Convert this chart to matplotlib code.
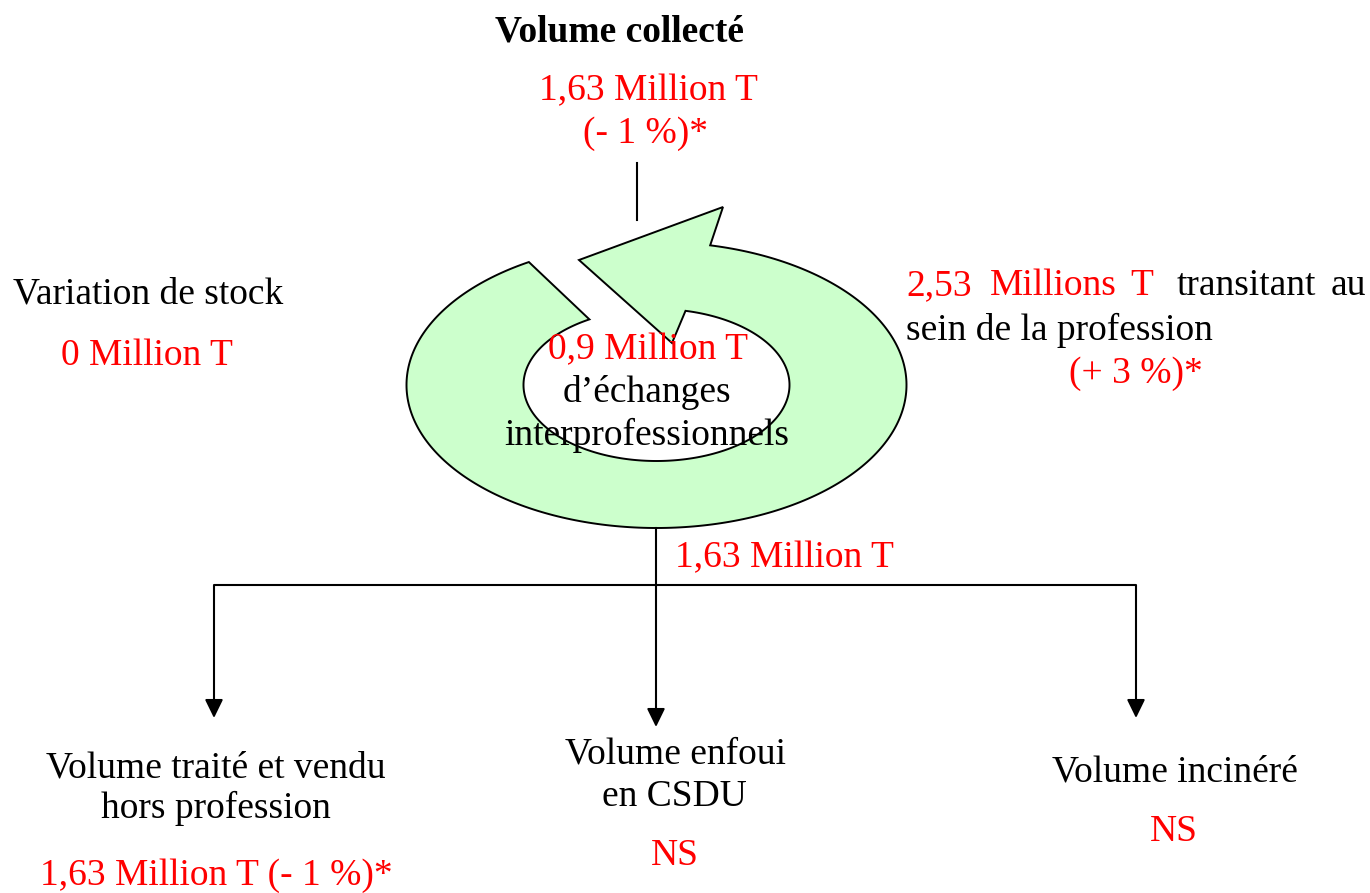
import numpy as np
import matplotlib
matplotlib.use("Agg")
import matplotlib.pyplot as plt
from matplotlib.patches import Polygon

# ---- Text content ----
title_top = "Volume collecté"
collect_value = ["1,63 Million T", "(- 1 %)*"]
stock_label = "Variation de stock"
stock_value = "0 Million T"
transit_words_red = ["2,53", "Millions", "T"]
transit_words_black = ["transitant", "au"]
transit_line2 = "sein de la profession"
transit_change = "(+ 3 %)*"
inner_value = "0,9 Million T"
inner_label = ["d\u2019échanges", "interprofessionnels"]
flow_value = "1,63 Million T"
out_labels = [["Volume traité et vendu", "hors profession"],
              ["Volume enfoui", "en CSDU"],
              ["Volume incinéré"]]
out_values = ["1,63 Million T (- 1 %)*", "NS", "NS"]

RED = "#FF0000"
GREEN = "#CCFFCC"
FONT = "Liberation Serif"
FS = 27

fig = plt.figure(figsize=(13.7, 8.93), dpi=100)
ax = fig.add_axes([0, 0, 1, 1])
ax.set_xlim(0, 1370)
ax.set_ylim(893, 0)
ax.axis("off")

# ---- Circular arrow ----
cx, cy = 656.5, 385.0
ao, bo = 250.0, 143.0
ai, bi = 133.0, 76.0
t_out = np.radians(np.linspace(239.3, -77.6, 300))
t_in = np.radians(np.linspace(-77.4, 239.7, 300))
outer = np.column_stack([cx + ao * np.cos(t_out), cy + bo * np.sin(t_out)])
inner = np.column_stack([cx + ai * np.cos(t_in), cy + bi * np.sin(t_in)])
head = np.array([[723, 207], [579, 260], [672, 343]])
pts = np.vstack([outer, head, inner])
ax.add_patch(Polygon(pts, closed=True, facecolor=GREEN, edgecolor="black", lw=1.4, joinstyle="miter"))

# ---- Lines ----
LW = 1.5
ax.plot([637, 637], [163, 220], color="black", lw=LW)
ax.plot([214, 1136], [585, 585], color="black", lw=LW, solid_capstyle="butt")
ax.plot([656, 656], [528, 585], color="black", lw=LW)
for x, y0, y1 in [(214, 585, 718), (656, 585, 727), (1136, 585, 718)]:
    ax.annotate("", xy=(x, y1), xytext=(x, y0),
                arrowprops=dict(arrowstyle="-|>,head_length=0.45,head_width=0.22",
                                mutation_scale=25, color="black", lw=LW,
                                shrinkA=0, shrinkB=0))

def txt(x, y, s, color="black", ha="center", weight="normal"):
    ax.text(x, y, s, color=color, ha=ha, va="baseline", fontsize=FS,
            family=FONT, fontweight=weight)

# Top
txt(620, 42, title_top, weight="bold")
txt(648, 100, collect_value[0], RED)
txt(646, 143, collect_value[1], RED)

# Left
txt(148, 303, stock_label)
txt(147, 365, stock_value, RED)

# Right
for w, x in zip(transit_words_red, [906, 990, 1130]):
    txt(x, 295, w, RED, ha="left")
txt(1177, 295, transit_words_black[0], ha="left")
txt(1366, 295, transit_words_black[1], ha="right")
txt(906, 340, transit_line2, ha="left")
txt(1136, 383, transit_change, RED)

# Inner
txt(648, 359, inner_value, RED)
txt(647, 402, inner_label[0])
txt(647, 445, inner_label[1])

# Flow value
txt(675, 567, flow_value, RED, ha="left")

# Outputs
txt(216, 777, out_labels[0][0])
txt(216, 818, out_labels[0][1])
txt(216, 885, out_values[0], RED)
txt(676, 763, out_labels[1][0])
txt(674, 806, out_labels[1][1])
txt(675, 865, out_values[1], RED)
txt(1175, 782, out_labels[2][0])
txt(1174, 841, out_values[2], RED)

fig.savefig("out.png", dpi=100)
